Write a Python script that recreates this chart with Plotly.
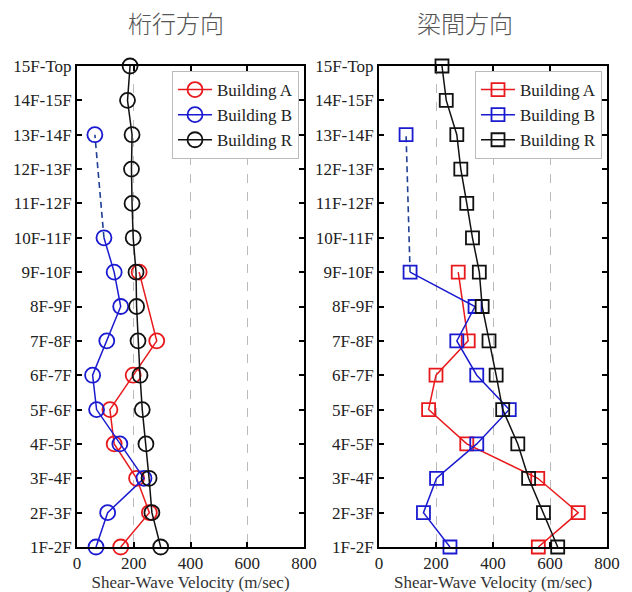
import plotly.graph_objects as go

floors = ["1F-2F", "2F-3F", "3F-4F", "4F-5F", "5F-6F", "6F-7F", "7F-8F",
          "8F-9F", "9F-10F", "10F-11F", "11F-12F", "12F-13F", "13F-14F",
          "14F-15F", "15F-Top"]
x_ticks = [0, 200, 400, 600, 800]

# 桁行方向 (left)
left_A = [154, 255, 210, 131, 116, 198, 281, None, 219, None, None, None, None, None, None]
left_B = [67, 108, 236, 151, 69, 55, 105, 154, 131, 95, None, None, 63, None, None]
left_B_dash = [None, None, None, None, None, None, None, None, None, 95, None, None, 63, None, None]
left_R = [295, 264, 254, 243, 230, 222, 215, 210, 208, 198, 194, 192, 194, 178, 187]

# 梁間方向 (right)
right_A = [559, 699, 557, 308, 174, 200, 313, None, 278, None, None, None, None, None, None]
right_B = [249, 156, 202, 343, 457, 343, 273, 337, 109, None, None, None, 95, None, None]
right_B_dash = [None, None, None, None, None, None, None, None, 109, None, None, None, 95, None, None]
right_R = [627, 577, 525, 487, 434, 411, 386, 362, 352, 328, 308, 287, 273, 236, 221]

titles = ["桁行方向", "梁間方向"]
names = ["Building A", "Building B", "Building R"]
colors = ["#e8191c", "#1a1ad0", "#111111"]
dash_color = "#1f3f95"

yidx = list(range(len(floors)))
serif = "Liberation Serif"

fig = go.Figure()

panels = [
    (left_A, left_B, left_B_dash, left_R, "circle-open", 15, "x", "y", "legend"),
    (right_A, right_B, right_B_dash, right_R, "square-open", 13, "x2", "y2", "legend2"),
]

for (A, B, Bd, R, sym, msize, xa, ya, leg) in panels:
    # dashed connection for B
    xs = [v for v in Bd if v is not None]
    ys = [i for i, v in zip(yidx, Bd) if v is not None]
    fig.add_trace(go.Scatter(x=xs, y=ys, mode="lines", xaxis=xa, yaxis=ya,
                             line=dict(color=dash_color, width=1.6, dash="6px,4px"),
                             showlegend=False, hoverinfo="skip", cliponaxis=False))
    for name, vals, col, gaps in zip(names, [A, B, R], colors, [True, False, True]):
        fig.add_trace(go.Scatter(
            x=vals, y=yidx, mode="lines+markers", name=name, xaxis=xa, yaxis=ya,
            legend=leg, cliponaxis=False, connectgaps=gaps,
            line=dict(color=col, width=1.5),
            marker=dict(symbol=sym, size=msize, color=col, line=dict(width=1.8, color=col)),
        ))

axis_common = dict(showline=True, linecolor="black", linewidth=2, mirror="ticks",
                   ticks="inside", ticklen=5, tickwidth=2, tickcolor="black",
                   tickfont=dict(family=serif, size=17, color="#222222"),
                   zeroline=False, automargin=False)

xdoms = [[77 / 632, 304 / 632], [379 / 632, 607 / 632]]
ydom = [1 - 547 / 592, 1 - 66 / 592]

for k, (xa, ya) in enumerate([("xaxis", "yaxis"), ("xaxis2", "yaxis2")]):
    fig.layout[xa] = dict(
        domain=xdoms[k], range=[0, 800], tickvals=x_ticks,
        ticktext=[str(v) for v in x_ticks],
        showgrid=True, gridcolor="#bbbbbb", griddash="dash", gridwidth=1,
        anchor="y" if k == 0 else "y2",
        title=dict(text="Shear-Wave Velocity (m/sec)",
                   font=dict(family=serif, size=17, color="#333333"), standoff=0),
        **axis_common)
    fig.layout[ya] = dict(
        domain=ydom, range=[0, 14], tickvals=yidx, ticktext=floors,
        showgrid=False, anchor="x" if k == 0 else "x2",
        **axis_common)

title_x = [176 / 632, 465 / 632]
for k, t in enumerate(titles):
    fig.add_annotation(text=t, x=title_x[k], y=1 - 22 / 592, xref="paper", yref="paper",
                       showarrow=False, xanchor="center", yanchor="middle",
                       font=dict(family="Noto Sans CJK JP", size=24, color="#555555",
                                 weight=300))

leg_common = dict(bgcolor="white", bordercolor="#bbbbbb", borderwidth=1,
                  font=dict(family=serif, size=17, color="#222222"),
                  xanchor="right", yanchor="top", tracegroupgap=0,
                  itemwidth=34)
fig.update_layout(
    legend=dict(x=299 / 632, y=1 - 71 / 592, **leg_common),
    legend2=dict(x=602 / 632, y=1 - 71 / 592, **leg_common),
    width=632, height=592, margin=dict(l=0, r=0, t=0, b=0),
    paper_bgcolor="white", plot_bgcolor="white", showlegend=True,
)

fig.write_html("out.html")
